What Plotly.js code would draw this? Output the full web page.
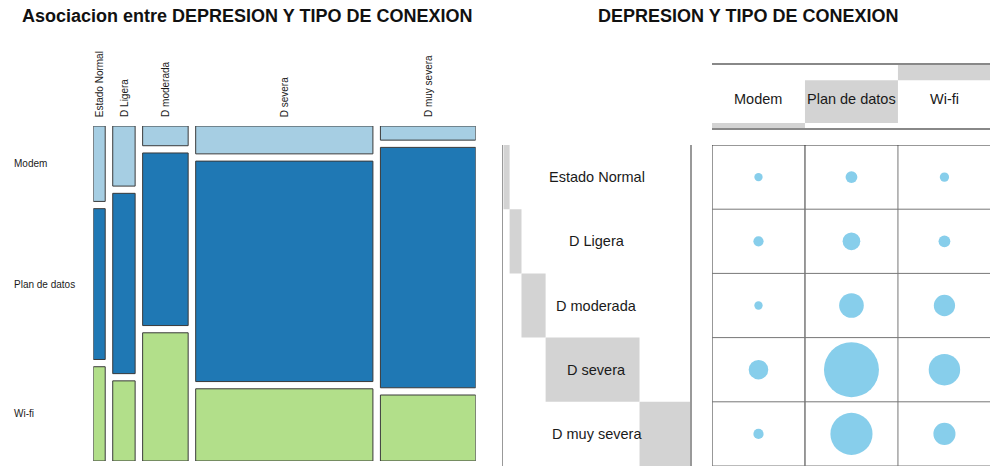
<!DOCTYPE html>
<html>
<head>
<meta charset="utf-8">
<script src="https://cdn.plot.ly/plotly-3.0.1.min.js"></script>
<style>html,body{margin:0;padding:0;background:#fff;}#chart{width:990px;height:466px;}</style>
</head>
<body>
<div id="chart"></div>
<script>
// ---- data (counts) ----
const depression = ['Estado Normal', 'D Ligera', 'D moderada', 'D severa', 'D muy severa'];
const connection = ['Modem', 'Plan de datos', 'Wi-fi'];
const modem      = [4, 6, 4, 22, 6];
const planDatos  = [8, 18, 35, 174, 102];
const wifi       = [5, 8, 26, 57, 28];

const titleLeft  = 'Asociacion entre DEPRESION Y TIPO DE CONEXION';
const titleRight = 'DEPRESION Y TIPO DE CONEXION';

// ---- derived ----
const series = [modem, planDatos, wifi];
const mosaicColors = ['#a6cee3', '#1f78b4', '#b2df8a'];
const rowTot = depression.map((_, i) => series.reduce((s, a) => s + a[i], 0));
const colTot = series.map(a => a.reduce((s, v) => s + v, 0));
const N = rowTot.reduce((s, v) => s + v, 0);
const rowCum = rowTot.map((_, i) => rowTot.slice(0, i).reduce((s, v) => s + v, 0));
const colCum = colTot.map((_, j) => colTot.slice(0, j).reduce((s, v) => s + v, 0));

const W = 990, H = 466;
const gx = 0.0213, gy = 0.0226;  // mosaic spacing (fraction of total)
const px = v => v / W, py = v => (H - v) / H;

// mosaic column geometry (normalized)
const colStart = depression.map((_, i) => rowCum[i] / N + i * gx);
const colWidth = rowTot.map(t => t / N);
const colCenter = colStart.map((s, i) => s + colWidth[i] / 2);

const traces = [];
series.forEach((arr, j) => {
  const base = [], h = [];
  depression.forEach((_, i) => {
    let cum = 0;
    for (let k = 0; k < j; k++) cum += series[k][i];
    base.push(cum / rowTot[i] + j * gy);
    h.push(arr[i] / rowTot[i]);
  });
  traces.push({
    type: 'bar', x: colCenter, y: h, base: base, width: colWidth,
    marker: {color: mosaicColors[j], line: {color: '#3a3a3a', width: 1}},
    xaxis: 'x', yaxis: 'y', hoverinfo: 'skip', showlegend: false
  });
});

// row-label margin bars (right panel)
traces.push({
  type: 'bar', orientation: 'h', y: depression.map((_, i) => i), x: rowTot, base: rowCum,
  width: 1, marker: {color: '#d3d3d3', line: {width: 0}},
  xaxis: 'x3', yaxis: 'y3', hoverinfo: 'skip', showlegend: false
});
// column-header margin bars
traces.push({
  type: 'bar', x: connection.map((_, j) => j), y: colTot, base: colCum,
  width: 1, marker: {color: '#d3d3d3', line: {width: 0}},
  xaxis: 'x4', yaxis: 'y4', hoverinfo: 'skip', showlegend: false
});

// balloons
const maxV = Math.max(...series.flat());
const bx = [], by = [], bs = [];
series.forEach((arr, j) => arr.forEach((v, i) => {
  bx.push(j); by.push(i); bs.push(55 * Math.sqrt(v / maxV));
}));
traces.push({
  type: 'scatter', mode: 'markers', x: bx, y: by,
  marker: {size: bs, sizemode: 'diameter', color: '#87ceeb', line: {width: 0}, opacity: 1},
  xaxis: 'x2', yaxis: 'y2', hoverinfo: 'skip', showlegend: false, cliponaxis: false
});

const hidden = {showticklabels: false, showgrid: false, zeroline: false, ticks: '', fixedrange: true};

const gridTop = 145;
const shapes = [];
connection.forEach((_, j) => shapes.push({
  type: 'line', xref: 'x2', yref: 'y2', x0: j - 0.5, x1: j - 0.5, y0: -0.5, y1: depression.length - 0.5,
  line: {color: j === 2 ? '#777' : '#333', width: 1}
}));
for (let i = 0; i <= depression.length; i++) shapes.push({
  type: 'line', xref: 'x2', yref: 'y2', x0: -0.5, x1: connection.length - 0.5, y0: i - 0.5, y1: i - 0.5,
  line: {color: i === 0 ? '#333' : '#777', width: 1}
});

const annotations = [];
const txt = '#1a1a1a';
annotations.push({xref: 'paper', yref: 'paper', x: px(247), y: py(16), text: titleLeft, showarrow: false,
  xanchor: 'center', yanchor: 'middle', font: {size: 18, weight: 'bold', color: '#111'}});
annotations.push({xref: 'paper', yref: 'paper', x: px(747.5), y: py(16), text: titleRight, showarrow: false,
  xanchor: 'center', yanchor: 'middle', font: {size: 18, weight: 'bold', color: '#111'}});
// mosaic column labels
depression.forEach((d, i) => annotations.push({
  xref: 'x', yref: 'y domain', x: colCenter[i], y: 1, yshift: 7, text: d, textangle: -90,
  showarrow: false, xanchor: 'center', yanchor: 'bottom', font: {size: 10, color: txt}
}));
// mosaic row labels (aligned with first column)
connection.forEach((c, j) => {
  let cum = 0;
  for (let k = 0; k < j; k++) cum += series[k][0];
  const mid = cum / rowTot[0] + j * gy + series[j][0] / rowTot[0] / 2;
  annotations.push({xref: 'paper', yref: 'y', x: px(12), y: mid, text: c, showarrow: false,
    xanchor: 'left', yanchor: 'middle', font: {size: 10, color: txt}});
});
// balloon plot row labels
depression.forEach((d, i) => annotations.push({
  xref: 'x3 domain', yref: 'y3', x: 0.5, y: i, text: d, showarrow: false,
  xanchor: 'center', yanchor: 'middle', font: {size: 14.5, color: txt}
}));
// balloon plot column labels
connection.forEach((c, j) => annotations.push({
  xref: 'x4', yref: 'paper', x: j, y: py(99), text: c, showarrow: false,
  xanchor: 'center', yanchor: 'middle', font: {size: 14.5, color: txt}
}));

const layout = {
  width: W, height: H, margin: {l: 0, r: 0, t: 0, b: 0},
  paper_bgcolor: '#fff', plot_bgcolor: 'rgba(0,0,0,0)',
  font: {family: 'Liberation Sans, Arial, sans-serif', color: txt},
  barmode: 'overlay', showlegend: false,
  xaxis: Object.assign({}, hidden, {domain: [px(93.3), px(475.7)], range: [0, 1 + 4 * gx], anchor: 'y'}),
  yaxis: Object.assign({}, hidden, {domain: [py(461), py(126)], range: [1 + 2 * gy, 0], anchor: 'x'}),
  xaxis2: Object.assign({}, hidden, {domain: [px(712), 1], range: [-0.5, 2.49], anchor: 'y2'}),
  yaxis2: Object.assign({}, hidden, {domain: [0, py(gridTop)], range: [depression.length - 0.5, -0.5], anchor: 'x2'}),
  xaxis3: Object.assign({}, hidden, {domain: [px(503.3), px(690)], range: [0, N], anchor: 'y3'}),
  yaxis3: Object.assign({}, hidden, {domain: [0, py(gridTop)], range: [depression.length - 0.5, -0.5], anchor: 'x3',
    showline: true, mirror: true, linecolor: '#999', linewidth: 1.5}),
  xaxis4: Object.assign({}, hidden, {domain: [px(712), 1], range: [-0.5, 2.49], anchor: 'y4',
    showline: true, mirror: true, linecolor: '#888', linewidth: 1.5}),
  yaxis4: Object.assign({}, hidden, {domain: [py(128.3), py(64.5)], range: [0, N], anchor: 'x4'}),
  shapes: shapes,
  annotations: annotations
};

Plotly.newPlot('chart', traces, layout, {displayModeBar: false, staticPlot: true});
</script>
</body>
</html>
